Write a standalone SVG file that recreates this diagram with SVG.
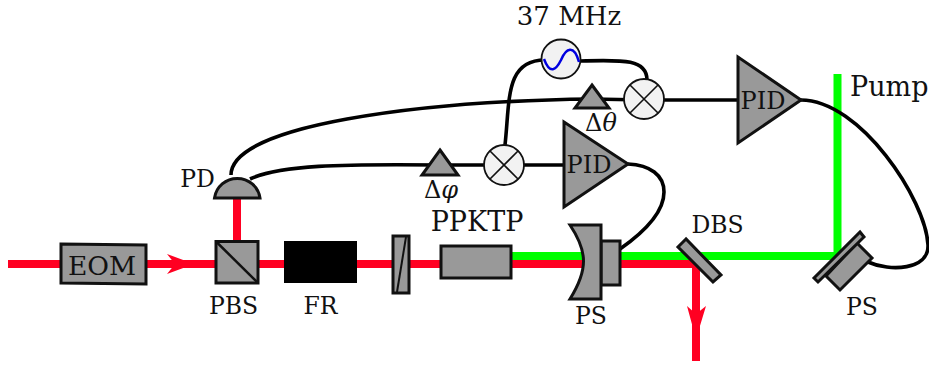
<svg xmlns="http://www.w3.org/2000/svg" width="929" height="365" viewBox="0 0 929 365">
<style>
.g{fill:#999;stroke:#111;stroke-width:3;stroke-linejoin:miter}
.w{fill:none;stroke:#000;stroke-width:3.6;stroke-linecap:butt}
.t{font-family:"DejaVu Serif",serif;fill:#111}
.m{fill:#f2f2f2;stroke:#111;stroke-width:1.8}
.x{fill:none;stroke:#111;stroke-width:1.6}
.r{stroke:#ff0022;fill:none;stroke-width:8}
.gr{stroke:#00ff00;fill:none;stroke-width:8}
</style>
<g id="connectors">
<path class="gr" d="M511 256H837.500V74"/>
<path class="r" d="M8 264H696V361"/>
<path class="r" d="M237 198V241"/>
<polygon points="167,254 194,264 167,274 175,264" fill="#ff0022"/>
<polygon points="687,306 696,339 706,306 696,314" fill="#ff0022"/>
<path class="w" d="M231 175C231 125 420 101 592 99L644 100"/>
<path class="w" d="M250 179C280 165 340 164 439 165H504"/>
<path class="w" d="M504 165H564"/>
<path class="w" d="M505 145C510 100 505 60 545 60"/>
<path class="w" d="M580 61C620 60 647 58 647 80"/>
<path class="w" d="M644 100H738"/>
<path class="w" d="M628 164C650 165 664 175 664 192C664 215 640 235 620 249"/>
<path class="w" d="M801 100C860 100 926 200 928 245C929 270 890 272 868 262"/>
</g>
<g id="eom"><polygon class="g" points="61,244 146,245 146,284 61,283"/><text class="t" x="102" y="275" font-size="26.500" text-anchor="middle">EOM</text></g>
<g id="pbs"><rect class="g" x="216" y="241.500" width="42" height="41.500"/><path d="M216 241.500L258 283" stroke="#111" stroke-width="2.500"/><text class="t" x="233.500" y="314" font-size="23.500" text-anchor="middle">PBS</text></g>
<g id="pd"><path class="g" d="M214.500 198A23 23 0 0 1 260 198Z"/><text class="t" x="197.500" y="187" font-size="23.500" text-anchor="middle">PD</text></g>
<g id="fr"><rect x="284" y="241" width="73" height="42" fill="#000"/><text class="t" x="320.500" y="314" font-size="23.500" text-anchor="middle">FR</text></g>
<g id="waveplate"><rect class="g" x="393" y="236" width="16" height="57"/><path d="M397 292L406 237" stroke="#111" stroke-width="2"/></g>
<g id="ppktp"><rect class="g" x="441" y="246" width="70" height="32"/><text class="t" x="477" y="231" font-size="27" text-anchor="middle">PPKTP</text></g>
<g id="ps1"><rect class="g" x="601" y="241" width="19" height="44"/><path class="g" d="M570 225H601V299H570C588 270 588 252 570 225Z"/><text class="t" x="591" y="324" font-size="23.500" text-anchor="middle">PS</text></g>
<g id="phase-phi"><polygon class="g" points="440,150 458,175 422,175" stroke-width="4.500"/><text class="t" x="441" y="198" font-size="24" text-anchor="middle">Δ<tspan font-style="italic">φ</tspan></text></g>
<g id="mixer1"><circle class="m" cx="504" cy="165" r="20"/><path class="x" d="M490 151L518 179M518 151L490 179"/></g>
<g id="pid1"><polygon class="g" points="564,122 564,207 628,164"/><text class="t" x="589" y="173" font-size="24" text-anchor="middle">PID</text></g>
<g id="oscillator"><circle class="m" cx="561" cy="59" r="19.500"/><path d="M544 59C550 75 556 70 561 60C566 48 574 44 579 62" fill="none" stroke="#0000e0" stroke-width="2.500"/><text class="t" x="569" y="24.500" font-size="26" text-anchor="middle">37 MHz</text></g>
<g id="phase-theta"><polygon class="g" points="592,85 609,108 575,108" stroke-width="4.500"/><text class="t" x="601" y="131" font-size="24" text-anchor="middle">Δ<tspan font-style="italic">θ</tspan></text></g>
<g id="mixer2"><circle class="m" cx="644" cy="99" r="20"/><path class="x" d="M630 85L658 113M658 85L630 113"/></g>
<g id="pid2"><polygon class="g" points="738,57 738,143 801,100"/><text class="t" x="763" y="109" font-size="24" text-anchor="middle">PID</text></g>
<g id="dbs"><polygon class="g" points="686,239 678,247 713,282 721,275" stroke-width="2.500"/><text class="t" x="717.500" y="233" font-size="23.500" text-anchor="middle">DBS</text></g>
<g id="ps2"><polygon class="g" points="857,243 872,258 840,290 826,276"/><polygon class="g" points="860,232 864,237 818,282 814,278" stroke-width="2.500"/><text class="t" x="862" y="315" font-size="23.500" text-anchor="middle">PS</text></g>
<text class="t" id="pump" x="850" y="96" font-size="27">Pump</text>
</svg>
